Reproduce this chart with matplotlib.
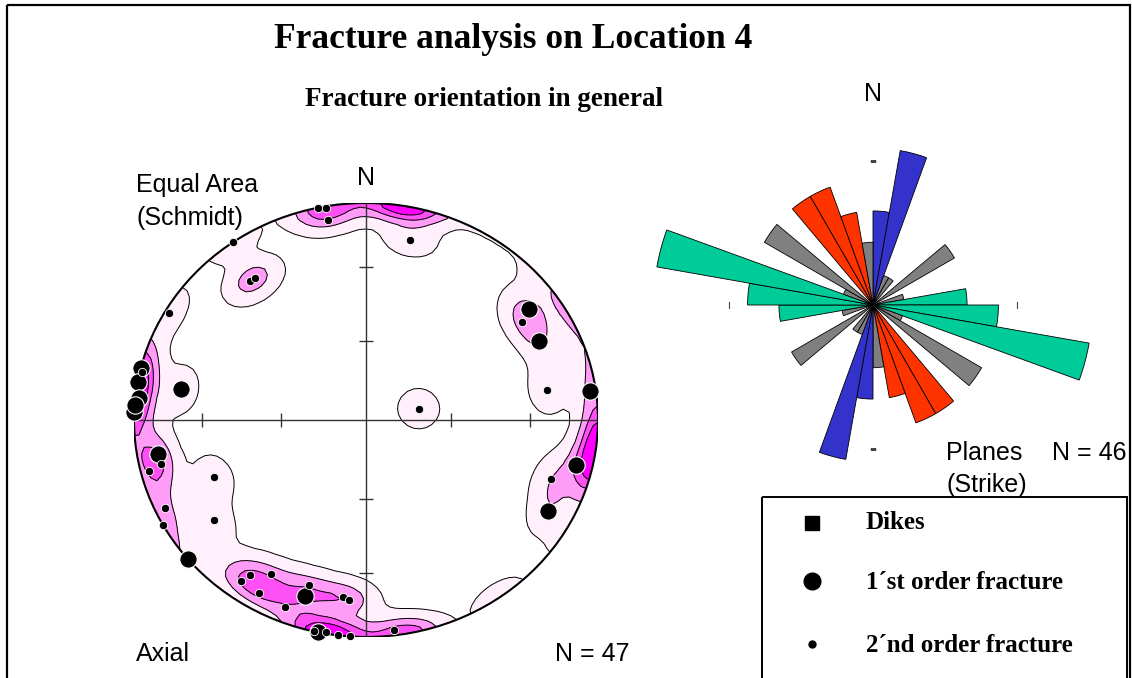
import numpy as np
import matplotlib
matplotlib.use('Agg')
import matplotlib.pyplot as plt
from matplotlib.patches import Circle, Rectangle

# Poles to fracture planes (trend, plunge in degrees, lower hemisphere)
big_trend = [284, 280, 276, 272, 274, 280, 54, 64, 82, 260, 230, 198, 192, 103, 118]
big_plunge = [0, 0, 2, 0, 0, 20, 14, 18, 3, 10, 0, 16, 0, 8, 12]
small_trend = [348, 350, 350, 325, 13, 322, 324, 300, 56, 80, 77, 257, 256, 248,
               245, 241, 235, 215, 210, 216, 210, 198, 202, 187, 185, 190, 187,
               184, 109, 173, 193, 283]
small_plunge = [0, 1, 7, 0, 16, 20, 20, 2, 20, 22, 71, 10, 4, 30,
                5, 0, 21, 14, 19, 9, 9, 21, 8, 19, 18, 1, 0,
                0, 17, 3, 0, 1]

# Strike rose, 10 degree bins from 0 to 180 (mirrored for 180-360)
rose_counts = [3, 5, 1, 1, 0, 3, 0, 1, 3, 4, 7, 1, 4, 0, 4, 4, 3, 2]
rose_colors = ['#3333cc', '#3333cc', '#808080', '#808080', '#808080', '#808080',
               '#808080', '#808080', '#00cc99', '#00cc99', '#00cc99', '#808080',
               '#808080', '#808080', '#ff3300', '#ff3300', '#ff3300', '#808080']

contour_colors = ['#fff0fb', '#ff9cf7', '#ff50f5', '#ff00ff']
contour_levels = [0.45, 1.45, 2.4, 3.3, 99]

W, H = 1132, 678
fig = plt.figure(figsize=(W / 100, H / 100), dpi=100)

sans = 'Liberation Sans'
serif = 'Liberation Serif'

# overlay in pixel coordinates for frame, titles and legend
ov = fig.add_axes([0, 0, 1, 1])
ov.set_xlim(0, W)
ov.set_ylim(H, 0)
ov.axis('off')
ov.add_patch(Rectangle((7, 5), 1123, 700, fill=False, lw=1.6, ec='black', clip_on=False))
ov.add_patch(Rectangle((762, 497), 365, 200, fill=False, lw=1.4, ec='black', clip_on=False))

ov.text(513, 48, 'Fracture analysis on Location 4', family=serif, weight='bold',
        fontsize=25.5, ha='center', va='baseline')
ov.text(484, 106, 'Fracture orientation in general', family=serif, weight='bold',
        fontsize=19.5, ha='center', va='baseline')

ov.text(366, 185, 'N', family=sans, fontsize=18, ha='center', va='baseline')
ov.text(136, 192, 'Equal Area', family=sans, fontsize=18, ha='left', va='baseline')
ov.text(136, 225, '(Schmidt)', family=sans, fontsize=18, ha='left', va='baseline')
ov.text(136, 661, 'Axial', family=sans, fontsize=18, ha='left', va='baseline')
n_poles = len(big_trend) + len(small_trend)
ov.text(555, 661, f'N = {n_poles}', family=sans, fontsize=18, ha='left', va='baseline')

ov.text(873, 101, 'N', family=sans, fontsize=18, ha='center', va='baseline')
ov.text(946, 460, 'Planes', family=sans, fontsize=18, ha='left', va='baseline')
ov.text(1052, 460, f'N = {sum(rose_counts)}', family=sans, fontsize=18, ha='left', va='baseline')
ov.text(946, 492, '(Strike)', family=sans, fontsize=18, ha='left', va='baseline')

# legend
ov.plot(812, 523, marker='s', ms=10, color='black', ls='none')
ov.plot(812, 581, marker='o', ms=12, color='black', ls='none')
ov.plot(812, 644, marker='o', ms=5, color='black', ls='none')
ov.text(866, 529, 'Dikes', family=serif, weight='bold', fontsize=18, va='baseline')
ov.text(866, 589, '1\u00b4st order fracture', family=serif, weight='bold', fontsize=18, va='baseline')
ov.text(866, 652, '2\u00b4nd order fracture', family=serif, weight='bold', fontsize=18, va='baseline')


def to_vec(trend, plunge):
    t = np.radians(trend)
    p = np.radians(plunge)
    return np.column_stack([np.cos(p) * np.sin(t), np.cos(p) * np.cos(t), -np.sin(p)])


def project(trend, plunge):
    t = np.radians(np.asarray(trend, float))
    r = np.sqrt(2) * np.sin(np.radians(90 - np.asarray(plunge, float)) / 2)
    return r * np.sin(t), r * np.cos(t)


# equal-area stereonet
ax = fig.add_axes([134 / W, 1 - 637 / H, 464 / W, 434 / H])
ax.set_xlim(-1, 1)
ax.set_ylim(-1, 1)
ax.axis('off')

gx = np.linspace(-1.03, 1.03, 81)
X, Y = np.meshgrid(gx, gx)
R = np.minimum(np.hypot(X, Y), 1.0)
th = 2 * np.arcsin(R / np.sqrt(2))
az = np.arctan2(X, Y)
G = np.stack([np.sin(th) * np.sin(az), np.sin(th) * np.cos(az), -np.cos(th)], axis=-1)

poles = to_vec(big_trend + small_trend, big_plunge + small_plunge)
k = 95.0
dens = np.zeros_like(X)
for v in poles:
    dens += np.exp(k * (np.abs(G @ v) - 1))

rim = Circle((0, 0), 1, transform=ax.transData, fill=False)
cf = ax.contourf(X, Y, dens, levels=contour_levels, colors=contour_colors)
cl = ax.contour(X, Y, dens, levels=contour_levels[:-1], colors='black', linewidths=0.7)
cf.set_clip_path(rim)
cl.set_clip_path(rim)

ax.add_patch(Circle((0, 0), 1, fill=False, ec='black', lw=1.5, zorder=3))
ax.plot([-1, 1], [0, 0], color='#333333', lw=1, zorder=3)
ax.plot([0, 0], [-1, 1], color='#333333', lw=1, zorder=3)
tick_r = np.sqrt(2) * np.sin(np.radians([15, 30]))
ax.plot(np.r_[tick_r, -tick_r], np.zeros(4), ls='none', marker='|', ms=10,
        mew=1, color='#333333', zorder=3)
ax.plot(np.zeros(4), np.r_[tick_r, -tick_r], ls='none', marker='_', ms=10,
        mew=1, color='#333333', zorder=3)

bx, by = project(big_trend, big_plunge)
sx, sy = project(small_trend, small_plunge)
ax.plot(bx, by, ls='none', marker='o', ms=12.5, color='black', mec='white',
        mew=0.8, zorder=4, clip_on=False)
ax.plot(sx, sy, ls='none', marker='o', ms=6, color='black', mec='white',
        mew=0.6, zorder=5, clip_on=False)

# rose diagram of strikes
axr = fig.add_axes([641 / W, 1 - 537 / H, 464 / W, 464 / H], projection='polar')
axr.set_theta_zero_location('N')
axr.set_theta_direction(-1)
edges = np.radians(np.arange(0, 360, 10))
axr.bar(edges, rose_counts * 2, width=np.radians(10), align='edge',
        color=rose_colors * 2, edgecolor='black', linewidth=0.6)
axr.set_ylim(0, 7.4)
axr.grid(False)
axr.set_xticks([])
axr.set_yticks([])
axr.spines['polar'].set_visible(False)
axr.patch.set_visible(False)
ring = 0.1 * sum(rose_counts)
axr.plot(np.radians([0, 180]), [ring, ring], ls='none', marker='_', ms=5,
         mew=0.8, color='#444444')
axr.plot(np.radians([90, 270]), [ring, ring], ls='none', marker='|', ms=5,
         mew=0.8, color='#444444')

fig.savefig('out.png', dpi=100)
